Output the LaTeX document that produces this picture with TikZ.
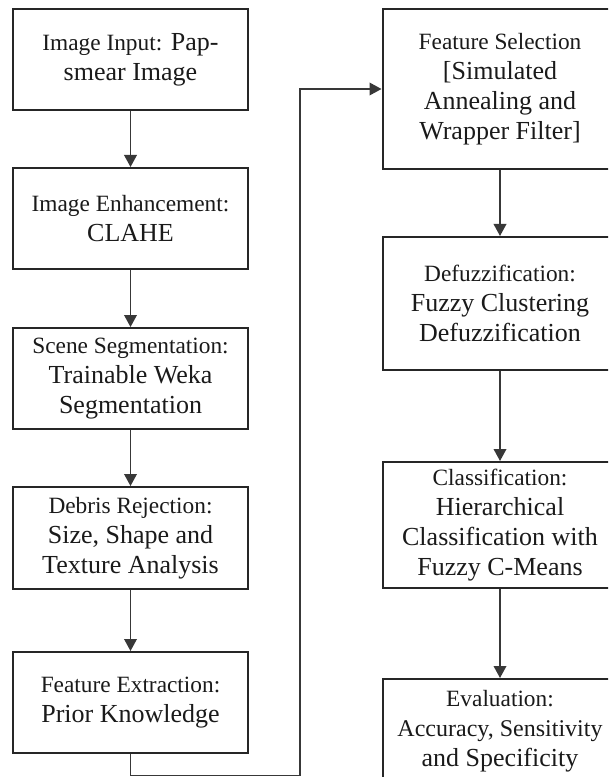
\documentclass[tikz,border=0pt]{standalone}
\usepackage{fontspec}
\setmainfont{Liberation Serif}
\usetikzlibrary{arrows.meta}
\definecolor{ink}{HTML}{1A1A1A}
\definecolor{edge}{HTML}{262626}
\definecolor{wire}{HTML}{383838}
\newcommand{\lead}[1]{{\fontsize{17.5}{22}\selectfont #1}}

\begin{document}
\begin{tikzpicture}[x=0.75pt,y=-0.75pt,text=ink,>={Triangle[width=9.5pt,length=9pt]},
  stage/.style={draw=edge,line width=1.5pt,fill=white,align=center,
    minimum width=176.25pt,inner sep=2pt,
    font=\fontsize{19.5}{22.5}\selectfont},
  flow/.style={draw=wire,line width=1.1pt,->}]
  \clip (0,0) rectangle (608,777);

  % Left column.
  \node[stage,minimum height=75.75pt] (input) at (130.5,59.5)
    {\lead{Image Input:} Pap-\\smear Image};
  \node[stage,minimum height=75.75pt] (enhance) at (130.5,218.5)
    {\lead{Image Enhancement:}\\CLAHE};
  \node[stage,minimum height=75.75pt] (segment) at (130.5,378.5)
    {\lead{Scene Segmentation:}\\Trainable Weka\\Segmentation};
  \node[stage,minimum height=76.5pt] (debris) at (130.5,538)
    {\lead{Debris Rejection:}\\Size, Shape and\\Texture Analysis};
  \node[stage,minimum height=75.75pt] (extract) at (130.5,702.5)
    {\lead{Feature Extraction:}\\Prior Knowledge};

  % Right column.
  \node[stage,minimum height=120pt] (select) at (500,89)
    {\lead{Feature Selection}\\{[}Simulated\\Annealing and\\Wrapper Filter]};
  \node[stage,minimum height=99.75pt] (defuzz) at (500,303.5)
    {\lead{Defuzzification:}\\Fuzzy Clustering\\Defuzzification};
  \node[stage,minimum height=94.5pt] (classify) at (500,525)
    {\lead{Classification:}\\Hierarchical\\Classification with\\Fuzzy C-Means};
  \node[stage,minimum height=78pt] (evaluate) at (500,731)
    {\lead{Evaluation:}\\{\fontsize{18}{22.5}\selectfont Accuracy, Sensitivity}\\and Specificity};

  % Connectors.
  \draw[flow] (input) -- (enhance);
  \draw[flow] (enhance) -- (segment);
  \draw[flow] (segment) -- (debris);
  \draw[flow] (debris) -- (extract);
  \coordinate (turn) at (300,775.5);
  \draw[flow] (extract.south) |- (turn) |- (select.west);
  \draw[flow] (select) -- (defuzz);
  \draw[flow] (defuzz) -- (classify);
  \draw[flow] (classify) -- (evaluate);
\end{tikzpicture}
\end{document}
